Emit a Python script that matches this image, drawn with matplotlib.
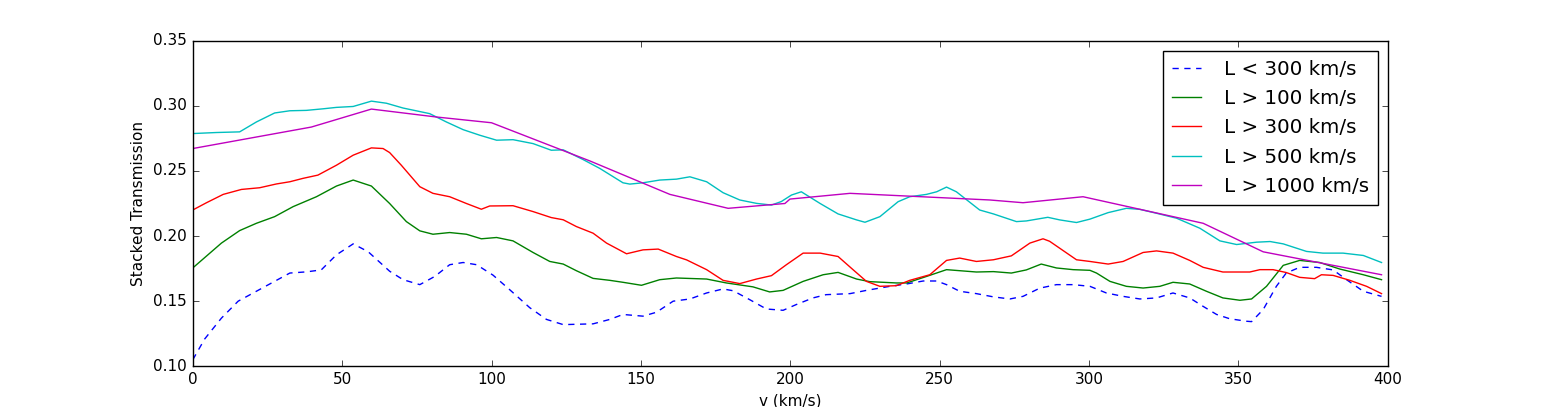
import matplotlib
matplotlib.use('Agg')
import matplotlib.pyplot as plt

# ── data ────────────────────────────────────────────────────
v_lt300 = [0, 4, 9.6, 15.2, 22.4, 32.5, 38, 43, 48.1, 53.7, 58.7, 65.9, 70.4, 76, 81,
           86, 90.5, 95, 100.5, 106, 112.8, 118.4, 124, 134, 139.6, 144, 150.7, 155.2,
           160.8, 166.4, 172, 177.5, 180.9, 186.4, 192, 197.6, 202, 207.6, 212, 220,
           225.5, 233.3, 238.9, 244.5, 249, 252.3, 256.7, 262.3, 268, 273.5, 277.9,
           283.5, 289.1, 294.7, 300.3, 305.8, 311.4, 317, 322.6, 328.1, 333.7, 338.2,
           342.7, 347.1, 352.7, 354.4, 358.3, 362.7, 366, 370.5, 376.1, 381.7, 386.2,
           391.8, 397.9]
t_lt300 = [0.105, 0.121, 0.137, 0.150, 0.159, 0.1716, 0.1725, 0.174, 0.1856, 0.194, 0.188,
           0.173, 0.1665, 0.1627, 0.169, 0.178, 0.1797, 0.178, 0.170, 0.159, 0.145, 0.136,
           0.132, 0.1326, 0.136, 0.1398, 0.1385, 0.1415, 0.150, 0.1517, 0.1563, 0.1594,
           0.158, 0.1512, 0.144, 0.143, 0.1474, 0.1525, 0.155, 0.1558, 0.1583, 0.1614,
           0.1632, 0.1655, 0.1655, 0.1627, 0.1576, 0.1558, 0.1533, 0.1517, 0.1537, 0.160,
           0.1627, 0.1627, 0.1614, 0.1563, 0.1537, 0.1517, 0.1525, 0.1563, 0.1525, 0.146,
           0.1398, 0.1365, 0.1346, 0.1343, 0.1436, 0.1614, 0.1716, 0.176, 0.176, 0.174,
           0.1665, 0.1576, 0.1537]

v_gt100 = [0, 9.6, 15.7, 21.3, 27.4, 33.6, 41.4, 48.1, 53.7, 59.8, 65.9, 71.5, 76, 80.4,
           86, 91.6, 96.6, 101.7, 107.2, 113.9, 119.5, 124, 128.4, 134, 139.6, 144, 150.2,
           156.3, 161.9, 172, 178.6, 187.5, 193.1, 197.6, 204.3, 211, 216, 222.2, 226.6,
           235.5, 239, 245.6, 252.3, 262.3, 268, 274, 279, 284, 289.1, 294.7, 300.3,
           302.5, 307, 312.5, 318.1, 323.7, 328.1, 333.7, 339.3, 344.8, 350.5, 354.4,
           359.4, 365, 370.5, 377.2, 383.9, 391.8, 397.9]
t_gt100 = [0.1755, 0.1946, 0.2042, 0.2098, 0.2149, 0.2226, 0.2302, 0.2384, 0.243, 0.2384,
           0.225, 0.2111, 0.204, 0.2014, 0.2027, 0.2014, 0.1979, 0.1989, 0.1963, 0.1874,
           0.1805, 0.1785, 0.1734, 0.1675, 0.166, 0.1645, 0.1622, 0.1665, 0.1678, 0.167,
           0.164, 0.161, 0.1571, 0.1583, 0.1652, 0.1703, 0.1721, 0.167, 0.165, 0.164,
           0.164, 0.169, 0.1742, 0.1724, 0.1727, 0.1716, 0.174, 0.1785, 0.1755, 0.1742,
           0.1737, 0.1716, 0.1652, 0.1614, 0.1601, 0.1614, 0.1645, 0.1632, 0.1576, 0.1525,
           0.1507, 0.1517, 0.1614, 0.1775, 0.1813, 0.1797, 0.1747, 0.1703, 0.1665]

v_gt300 = [0, 4.6, 10.2, 16.3, 22.4, 28, 32.5, 36.9, 41.9, 48.1, 53.7, 59.8, 63.7, 65.9,
           69.8, 76, 80.4, 86, 91.6, 96.6, 99.4, 107.2, 113.9, 120, 124, 128.4, 134,
           138.5, 145.2, 150.7, 155.8, 161.9, 165.3, 172, 177.5, 183.1, 188.7, 193.7,
           198.7, 204.3, 210, 216, 221, 225.5, 230, 235.5, 240, 246.7, 252.3, 256.7,
           262.3, 268, 274, 280.2, 284.6, 286.8, 295.8, 300.3, 306.4, 311.4, 318.1,
           322.6, 328.1, 333.7, 338.2, 344.8, 353.8, 357.2, 361.6, 366, 370.5, 375.5,
           377.8, 381.7, 387.3, 392.9, 397.9]
t_gt300 = [0.220, 0.2256, 0.232, 0.2358, 0.2371, 0.240, 0.2417, 0.2443, 0.2468, 0.2544,
           0.2621, 0.2677, 0.2672, 0.2641, 0.2544, 0.2379, 0.2328, 0.2302, 0.225, 0.2206,
           0.2231, 0.2233, 0.2188, 0.2142, 0.2125, 0.2073, 0.2022, 0.1946, 0.1864, 0.1894,
           0.190, 0.1843, 0.1817, 0.1742, 0.166, 0.1635, 0.167, 0.1696, 0.178, 0.1869,
           0.1869, 0.1843, 0.1742, 0.1652, 0.1614, 0.1619, 0.166, 0.1703, 0.1813, 0.1831,
           0.1805, 0.1818, 0.1848, 0.1946, 0.1979, 0.196, 0.1818, 0.1805, 0.1785, 0.1805,
           0.1874, 0.1886, 0.1869, 0.1813, 0.176, 0.1724, 0.1724, 0.1742, 0.1742, 0.172,
           0.1683, 0.1673, 0.1703, 0.1698, 0.166, 0.1614, 0.1558]

v_gt500 = [0, 7.9, 15.7, 21.3, 27.4, 32.5, 38, 43.6, 48.1, 53.7, 59.8, 64.8, 70.4, 79.3,
           84.9, 90.5, 96.1, 101.7, 107.2, 113.9, 120, 124, 130.6, 136.2, 144, 146.3,
           150.7, 156.3, 161.9, 166.4, 172, 177.5, 183.1, 188.7, 193.7, 197, 200.4,
           203.7, 210, 216, 222.2, 225, 230, 236.1, 240, 245.6, 249, 252.3, 255.6, 263.4,
           268, 275.7, 279, 286.2, 290.2, 295.8, 300.3, 306.4, 312.5, 317, 322.6, 329.3,
           337.1, 343.8, 349.4, 356.1, 360.6, 365, 372.8, 378.3, 385, 391.8, 397.9]
t_gt500 = [0.2787, 0.2795, 0.280, 0.2876, 0.2945, 0.2962, 0.2965, 0.2977, 0.2988, 0.2995,
           0.3036, 0.302, 0.2983, 0.294, 0.2876, 0.2817, 0.2774, 0.2736, 0.274, 0.271,
           0.2659, 0.2662, 0.2588, 0.252, 0.2409, 0.2399, 0.2409, 0.243, 0.2437, 0.2455,
           0.2417, 0.2333, 0.2277, 0.2251, 0.2238, 0.2265, 0.2315, 0.234, 0.225, 0.217,
           0.2124, 0.2106, 0.2149, 0.2264, 0.2302, 0.232, 0.234, 0.2376, 0.234, 0.220,
           0.217, 0.2111, 0.2116, 0.2144, 0.2124, 0.2104, 0.213, 0.218, 0.2213, 0.2205,
           0.2175, 0.2137, 0.206, 0.1963, 0.1935, 0.1953, 0.1958, 0.194, 0.1882, 0.1869,
           0.1869, 0.1851, 0.1797]

v_gt1000 = [0, 39.7, 59.8, 81.6, 100, 132.9, 159.7, 179.2, 198.2, 199.9, 220, 266.8,
            277.9, 298, 338.2, 358.3, 397.9]
t_gt1000 = [0.2672, 0.2837, 0.2975, 0.2914, 0.287, 0.2577, 0.232, 0.2213, 0.225, 0.2284,
            0.2328, 0.2277, 0.2256, 0.2302, 0.2098, 0.1879, 0.1703]

# ── plot ───────────────────────────────────────────────────
plt.style.use('classic')
plt.rcParams['font.family'] = ['DejaVu Sans']

fig = plt.figure(figsize=(15.42, 4.07), dpi=100)
ax = fig.add_subplot(111)

ax.plot(v_lt300, t_lt300, color='b', lw=1.0, dashes=(4.5, 4.0), label='L < 300 km/s')
ax.plot(v_gt100, t_gt100, color='g', lw=1.0, label='L > 100 km/s')
ax.plot(v_gt300, t_gt300, color='r', lw=1.0, label='L > 300 km/s')
ax.plot(v_gt500, t_gt500, color='c', lw=1.0, label='L > 500 km/s')
ax.plot(v_gt1000, t_gt1000, color='m', lw=1.0, label='L > 1000 km/s')

ax.set_xlim(0, 400)
ax.set_ylim(0.10, 0.35)
ax.set_xlabel('v (km/s)', fontsize=11)
ax.set_ylabel('Stacked Transmission', fontsize=11)
ax.tick_params(labelsize=11)

ax.legend(loc='upper right', fontsize=14.3, handlelength=1.45, handletextpad=1.15,
          labelspacing=0.52, borderpad=0.45, numpoints=1)

fig.savefig('out.png', dpi=100, facecolor='white')
